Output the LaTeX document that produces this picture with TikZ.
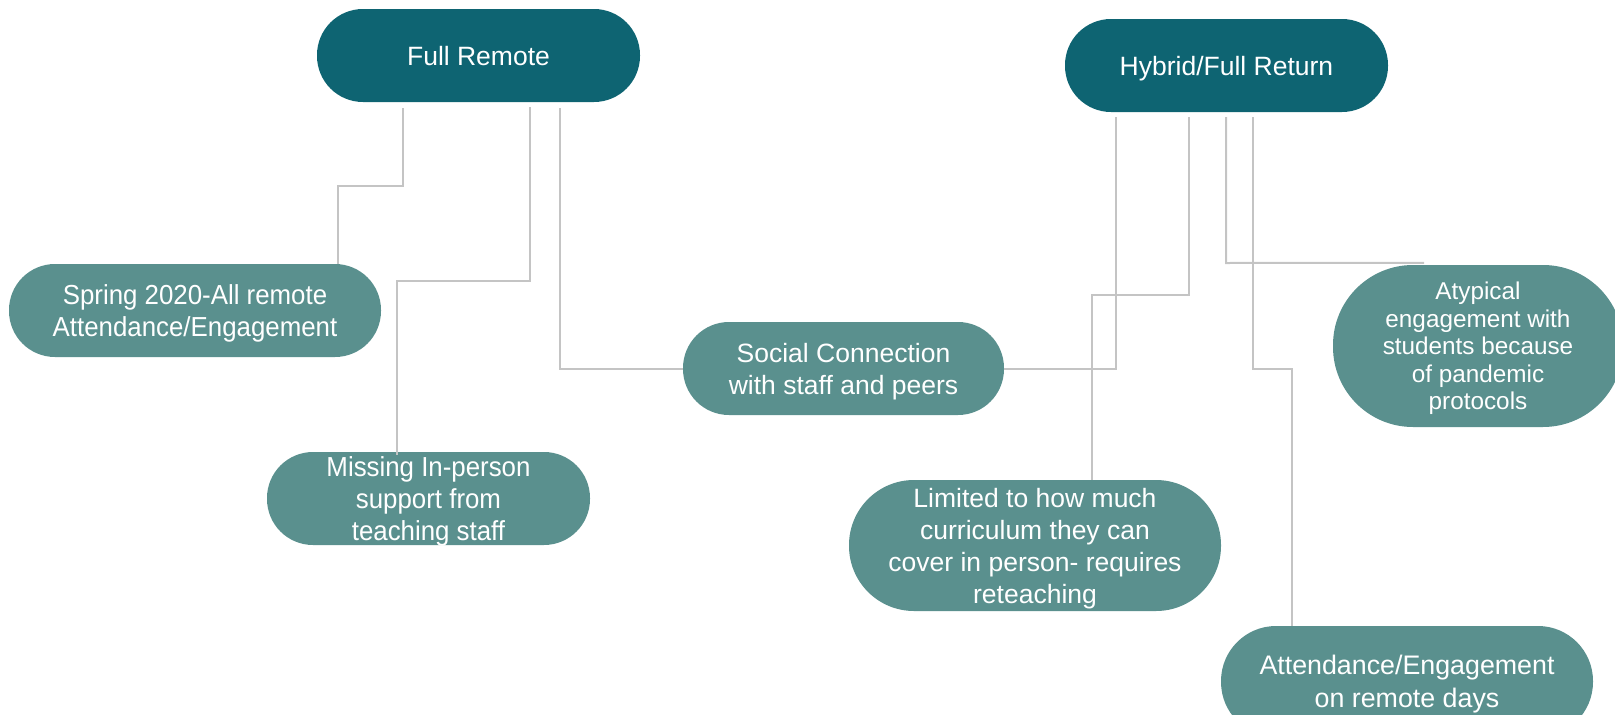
\documentclass[tikz,border=0pt]{standalone}
\usepackage{fontspec}
\setmainfont{Liberation Sans}
\newfontfamily\condfont[FakeStretch=0.94]{Liberation Sans}
\definecolor{darkteal}{HTML}{0E6472}
\definecolor{lightteal}{HTML}{5A908E}
\definecolor{linegray}{HTML}{C4C4C4}
\tikzset{
  pill/.style={fill=lightteal, text=white, align=center, inner sep=0pt, text depth=0pt},
  mainpill/.style={fill=darkteal, text=white, align=center, inner sep=0pt, text depth=0pt},
  conn/.style={draw=linegray, line width=2pt}
}
\begin{document}
\begin{tikzpicture}[x=1pt,y=-1pt]
\useasboundingbox (0,0) rectangle (1615,715);
% main nodes
\node[mainpill, minimum width=323pt, minimum height=93pt, rounded corners=46pt,
      font=\fontsize{26.5}{32}\selectfont] (FR) at (478.5,55.5) {Full Remote};
\node[mainpill, minimum width=323pt, minimum height=93pt, rounded corners=46pt,
      font=\fontsize{26.5}{32}\selectfont] (HY) at (1226.5,65.5) {Hybrid/Full Return};
% sub nodes
\node[pill, minimum width=372pt, minimum height=93pt, rounded corners=46pt,
      font=\condfont\fontsize{27.5}{32}\selectfont] (SP) at (195,310.5) {Spring 2020-All remote\\Attendance/Engagement};
\node[pill, minimum width=323pt, minimum height=93pt, rounded corners=46pt,
      font=\condfont\fontsize{27.5}{31.7}\selectfont] (MI) at (428.5,498.5) {Missing In-person\\support from\\teaching staff};
\node[pill, minimum width=321pt, minimum height=93pt, rounded corners=46pt,
      font=\fontsize{26.5}{32}\selectfont] (SC) at (843.5,368.5) {Social Connection\\with staff and peers};
\node[pill, minimum width=372pt, minimum height=131pt, rounded corners=65pt,
      font=\fontsize{26.5}{32}\selectfont] (LI) at (1035,545.5) {Limited to how much\\curriculum they can\\cover in person- requires\\reteaching};
\node[pill, minimum width=290pt, minimum height=162pt, rounded corners=80pt,
      font=\fontsize{24.3}{27.5}\selectfont] (AT) at (1478,346) {Atypical\\engagement with\\students because\\of pandemic\\protocols};
\node[pill, minimum width=372pt, minimum height=111pt, rounded corners=55pt,
      font=\fontsize{26.8}{32.5}\selectfont] (AE) at (1407,681.5) {Attendance/Engagement\\on remote days};
% bend coordinates
\coordinate (b1) at (403,186);
\coordinate (b2) at (530,281);
\coordinate (b3) at (560,368.5);
\coordinate (b4) at (1116,368.5);
\coordinate (b5) at (1189,295);
\coordinate (b6) at (1226,263);
\coordinate (b7) at (1253,369);
% connectors
\draw[conn] ([xshift=-75.5pt,yshift=-6pt]FR.south) -- (b1) -| ([xshift=143pt]SP.north);
\draw[conn] ([xshift=51.5pt,yshift=-5pt]FR.south) -- (b2) -| ([xshift=-31.5pt,yshift=-3pt]MI.north);
\draw[conn] ([xshift=81.5pt,yshift=-6pt]FR.south) -- (b3) -- (SC.west);
\draw[conn] (SC.east) -- (b4) -- ([xshift=-110.5pt,yshift=-5pt]HY.south);
\draw[conn] ([xshift=-37.5pt,yshift=-5pt]HY.south) -- (b5) -| ([xshift=57pt]LI.north);
\draw[conn] ([xshift=-0.5pt,yshift=-5pt]HY.south) -- (b6) -- ([xshift=-54pt,yshift=2pt]AT.north);
\draw[conn] ([xshift=26.5pt,yshift=-5pt]HY.south) -- (b7) -| ([xshift=-115pt]AE.north);
\end{tikzpicture}
\end{document}
